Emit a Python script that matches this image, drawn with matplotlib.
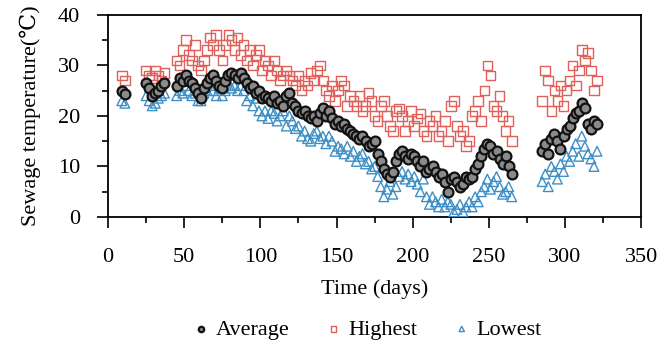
import matplotlib
matplotlib.use("Agg")
import matplotlib.pyplot as plt
from matplotlib.ticker import MultipleLocator

plt.rcParams['font.family'] = ['Liberation Serif', 'DejaVu Serif']

# ---- data ----
days = [9, 11, 25, 27, 29, 31, 33, 35, 37,
        45, 47, 49, 51, 53, 55, 57, 59, 61, 63,
        65, 67, 69, 71, 73, 75, 77, 79, 81, 83,
        85, 87, 89, 91, 93, 95, 97, 99, 101, 103,
        105, 107, 109, 111, 113, 115, 117, 119, 121, 123,
        125, 127, 129, 131, 133, 135, 137, 139, 141, 143,
        145, 147, 149, 151, 153, 155, 157, 159, 161, 163,
        165, 167, 169, 171, 173, 175, 177, 179, 181, 183,
        185, 187, 189, 191, 193, 195, 197, 199, 201, 203,
        205, 207, 209, 211, 213, 215, 217, 219, 221, 223,
        225, 227, 229, 231, 233, 235, 237, 239, 241, 243,
        245, 247, 249, 251, 253, 255, 257, 259, 261, 263,
        265,
        285, 287, 289, 291, 293, 295, 297, 299, 301, 303,
        305, 307, 309, 311, 313, 315, 317, 319, 321]

average = [25, 24.3, 26.5, 25.5, 24, 24.5, 25, 26, 26.5,
           26, 27.5, 27, 28, 27, 26.5, 25.5, 24.5, 23.5, 25.5,
           26.5, 27.5, 28, 27, 26, 25.5, 27, 28, 28.5, 28,
           27.5, 28.5, 27.5, 26.5, 25.5, 26, 24.5, 25, 23.5, 24,
           23.5, 23, 24, 22.5, 23, 22, 24, 24.5, 22.5, 22,
           21, 20.5, 21, 20, 19.5, 20, 19, 20.5, 21.5, 20,
           21, 19.5, 18.5, 19, 18, 18.5, 17.5, 17, 16.5, 16,
           15.5, 16, 15, 14, 14.5, 15, 12.5, 11, 9.5, 8.5,
           8, 9, 11, 12.5, 13, 12, 11.5, 12.5, 12, 11,
           10, 11, 9, 9.5, 10, 9, 8, 8.5, 7, 5,
           7.5, 8, 7, 6, 6.5, 8, 7.5, 8, 9.5, 10.5,
           12, 13.5, 14.5, 14, 12.5, 13, 11.5, 10.5, 12, 10,
           8.5,
           13, 14.5, 12.5, 15.5, 16.5, 15, 13.5, 16, 17.5, 18,
           19.5, 20.5, 21, 22.5, 21.5, 18.5, 17.5, 19, 18.5]

highest = [28, 27, 29, 28, 27.5, 29, 28, 27, 28.5,
           31, 30, 33, 35, 32, 31, 34, 30, 29, 31,
           33, 35.5, 34, 36, 33, 31, 34, 36, 35, 33,
           35.5, 32, 34, 31, 33, 30, 32, 33, 29, 31,
           30, 28, 31, 29, 27, 28, 29, 28, 27, 26,
           28, 25, 27, 26, 28.5, 27, 29, 30, 27, 25,
           24, 26, 23, 25, 27, 26, 22, 24, 23, 22,
           24, 21, 22, 24.5, 23, 20, 19, 22, 23, 20,
           18, 17, 21, 21.5, 20, 17, 19, 21, 18, 19.5,
           20.5, 17, 16, 19, 18, 20, 16, 17, 19, 15,
           22, 23, 18, 16, 17, 14, 15, 20, 21, 23,
           19, 25, 30, 28, 22, 21, 24, 20, 17, 19,
           15,
           23, 29, 27, 21, 25, 23, 26, 22, 25, 27,
           30, 26, 29, 33, 31, 32.5, 29, 25, 27]

lowest = [23, 22.5, 24, 23, 22, 22.5, 23.5, 24, 24.5,
          24, 25, 24.5, 26, 25, 24, 24.5, 23, 23, 24.5,
          25, 26, 25, 24, 25.5, 24, 25, 26, 25.5, 26,
          25, 26, 25, 23, 24, 22, 23.5, 21, 20, 21,
          19.5, 21, 20.5, 19, 20, 21, 18, 20, 19, 17.5,
          18, 16, 17, 15.5, 15, 16.5, 17, 15.5, 16, 14.5,
          16, 15, 13, 14, 13.5, 12.5, 14, 12, 13, 11,
          12, 12.5, 10.5, 11, 9.5, 10, 8, 6, 4, 5.5,
          7, 4.5, 6, 8, 9, 7.5, 8.5, 7, 8, 6.5,
          5, 7.5, 4, 2.5, 4, 3, 2, 3.5, 2, 3,
          2.5, 1, 1.5, 2.5, 1, 2, 3, 2, 4, 3,
          5, 6, 7.5, 5.5, 7, 8, 6, 4.5, 5, 6,
          4,
          7, 8.5, 6, 10, 9, 7.5, 10.5, 9, 12, 11,
          13, 14.5, 12, 16, 14, 12.5, 11.5, 10, 13]

series_labels = ["Average", "Highest", "Lowest"]

# ---- figure ----
fig = plt.figure(figsize=(6.59, 3.45), dpi=100)
ax = fig.add_axes([0.164, 0.371, 0.809, 0.586])

ax.scatter(days, highest, marker='s', s=48, facecolors='none',
           edgecolors='#e0605a', linewidths=1.0, label=series_labels[1], zorder=2)
ax.scatter(days, lowest, marker='^', s=48, facecolors='none',
           edgecolors='#3d8fc6', linewidths=1.0, label=series_labels[2], zorder=3)
ax.scatter(days, average, marker='o', s=50, facecolors='#8a8a8a',
           edgecolors='#111111', linewidths=1.6, label=series_labels[0], zorder=4)

ax.set_xlim(0, 350)
ax.set_ylim(0, 40)
ax.xaxis.set_major_locator(MultipleLocator(50))
ax.xaxis.set_minor_locator(MultipleLocator(25))
ax.yaxis.set_major_locator(MultipleLocator(10))
ax.yaxis.set_minor_locator(MultipleLocator(5))
ax.tick_params(which='both', direction='out', top=False, right=False,
               labelsize=16, width=1.2)
ax.tick_params(axis='x', which='both', pad=14)
ax.tick_params(axis='y', which='both', pad=12)
ax.tick_params(which='major', length=8)
ax.tick_params(which='minor', length=4.5)
for sp in ax.spines.values():
    sp.set_linewidth(1.3)

ax.set_xlabel("Time (days)", fontsize=16, labelpad=9)
ax.set_ylabel("Sewage temperature(\u2103)", fontsize=16, labelpad=12)

h, l = ax.get_legend_handles_labels()
order = [2, 0, 1]
leg = fig.legend([h[i] for i in order], [l[i] for i in order], loc='center',
                 bbox_to_anchor=(0.555, 0.045), ncol=3, frameon=False,
                 fontsize=16, markerscale=0.55, handletextpad=0.15,
                 columnspacing=1.5, handlelength=1.0)

fig.savefig("out.png", dpi=100)
